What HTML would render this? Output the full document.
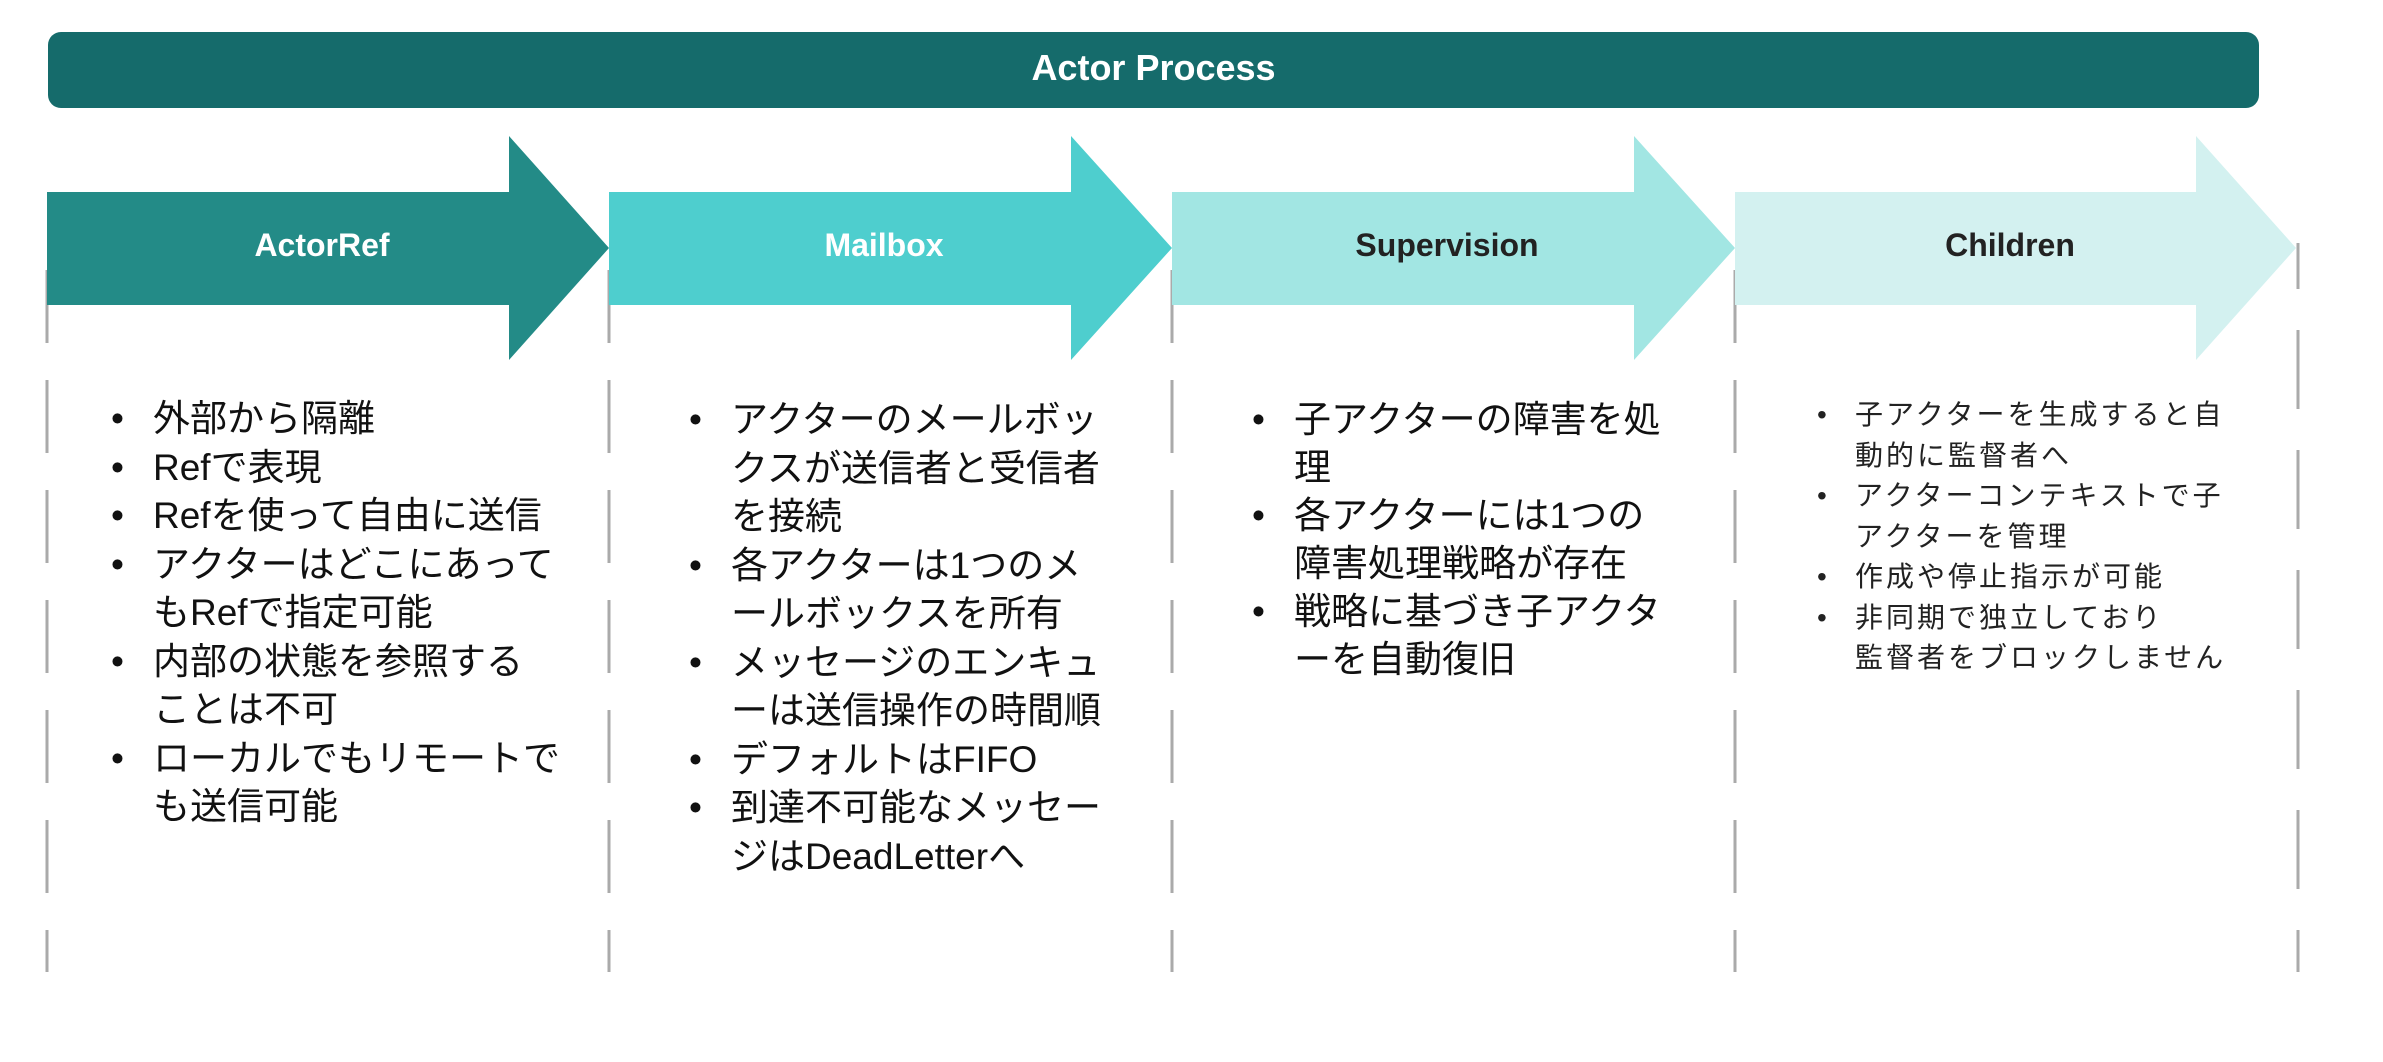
<!DOCTYPE html>
<html><head><meta charset="utf-8"><style>
html,body{margin:0;padding:0;background:#fff;}
body{width:2383px;height:1062px;position:relative;overflow:hidden;font-family:"Liberation Sans","Noto Sans CJK JP",sans-serif;}
.hdr{position:absolute;left:48px;top:32px;width:2211px;height:76px;background:#156b6b;border-radius:13px;color:#fff;font-weight:bold;font-size:36px;line-height:72px;text-align:center;}
.lbl{position:absolute;top:219px;height:52px;line-height:52px;width:550px;text-align:center;font-weight:bold;font-size:32px;}
.col{position:absolute;white-space:nowrap;color:#111;}
.col div{position:relative;}
.b{position:absolute;}
</style></head><body>
<svg width="2383" height="1062" style="position:absolute;left:0;top:0">
<g stroke="#aaa" stroke-width="3">
<line x1="47" y1="270" x2="47" y2="972" stroke-dasharray="73 37"/>
<line x1="609" y1="270" x2="609" y2="972" stroke-dasharray="73 37"/>
<line x1="1172" y1="270" x2="1172" y2="972" stroke-dasharray="73 37"/>
<line x1="1735" y1="270" x2="1735" y2="972" stroke-dasharray="73 37"/>
<line x1="2298" y1="243" x2="2298" y2="972" stroke-dasharray="79 41" stroke-dashoffset="33"/>
</g>
<polygon points="47,192 509,192 509,136 609,248 509,360 509,305 47,305" fill="#238b87"/>
<polygon points="609,192 1071,192 1071,136 1172,248 1071,360 1071,305 609,305" fill="#4ecece"/>
<polygon points="1172,192 1634,192 1634,136 1735,248 1634,360 1634,305 1172,305" fill="#a2e6e3"/>
<polygon points="1735,192 2196,192 2196,136 2296,248 2196,360 2196,305 1735,305" fill="#d3f1f0"/>
</svg>
<div class="hdr">Actor Process</div>
<div class="lbl" style="left:47px;color:#fff">ActorRef</div>
<div class="lbl" style="left:609px;color:#fff">Mailbox</div>
<div class="lbl" style="left:1172px;color:#222">Supervision</div>
<div class="lbl" style="left:1735px;color:#222">Children</div>

<div class="col" style="left:153px;top:395px;font-size:37px;line-height:48.5px">
<div><span class="b" style="left:-42px">•</span>外部から隔離</div>
<div><span class="b" style="left:-42px">•</span>Refで表現</div>
<div><span class="b" style="left:-42px">•</span>Refを使って自由に送信</div>
<div><span class="b" style="left:-42px">•</span>アクターはどこにあって<br>もRefで指定可能</div>
<div><span class="b" style="left:-42px">•</span>内部の状態を参照する<br>ことは不可</div>
<div><span class="b" style="left:-42px">•</span>ローカルでもリモートで<br>も送信可能</div>
</div>

<div class="col" style="left:731px;top:396px;font-size:37px;line-height:48.5px">
<div><span class="b" style="left:-42px">•</span>アクターのメールボッ<br>クスが送信者と受信者<br>を接続</div>
<div><span class="b" style="left:-42px">•</span>各アクターは1つのメ<br>ールボックスを所有</div>
<div><span class="b" style="left:-42px">•</span>メッセージのエンキュ<br>ーは送信操作の時間順</div>
<div><span class="b" style="left:-42px">•</span>デフォルトはFIFO</div>
<div><span class="b" style="left:-42px">•</span>到達不可能なメッセー<br>ジはDeadLetterへ</div>
</div>

<div class="col" style="left:1294px;top:396px;font-size:37px;line-height:48px">
<div><span class="b" style="left:-42px">•</span>子アクターの障害を処<br>理</div>
<div><span class="b" style="left:-42px">•</span>各アクターには1つの<br>障害処理戦略が存在</div>
<div><span class="b" style="left:-42px">•</span>戦略に基づき子アクタ<br>ーを自動復旧</div>
</div>

<div class="col" style="left:1855px;top:395px;font-size:28px;line-height:40.5px;letter-spacing:3px;color:#222">
<div><span class="b" style="left:-38px">•</span>子アクターを生成すると自<br>動的に監督者へ</div>
<div><span class="b" style="left:-38px">•</span>アクターコンテキストで子<br>アクターを管理</div>
<div><span class="b" style="left:-38px">•</span>作成や停止指示が可能</div>
<div><span class="b" style="left:-38px">•</span>非同期で独立しており<br>監督者をブロックしません</div>
</div>
</body></html>
